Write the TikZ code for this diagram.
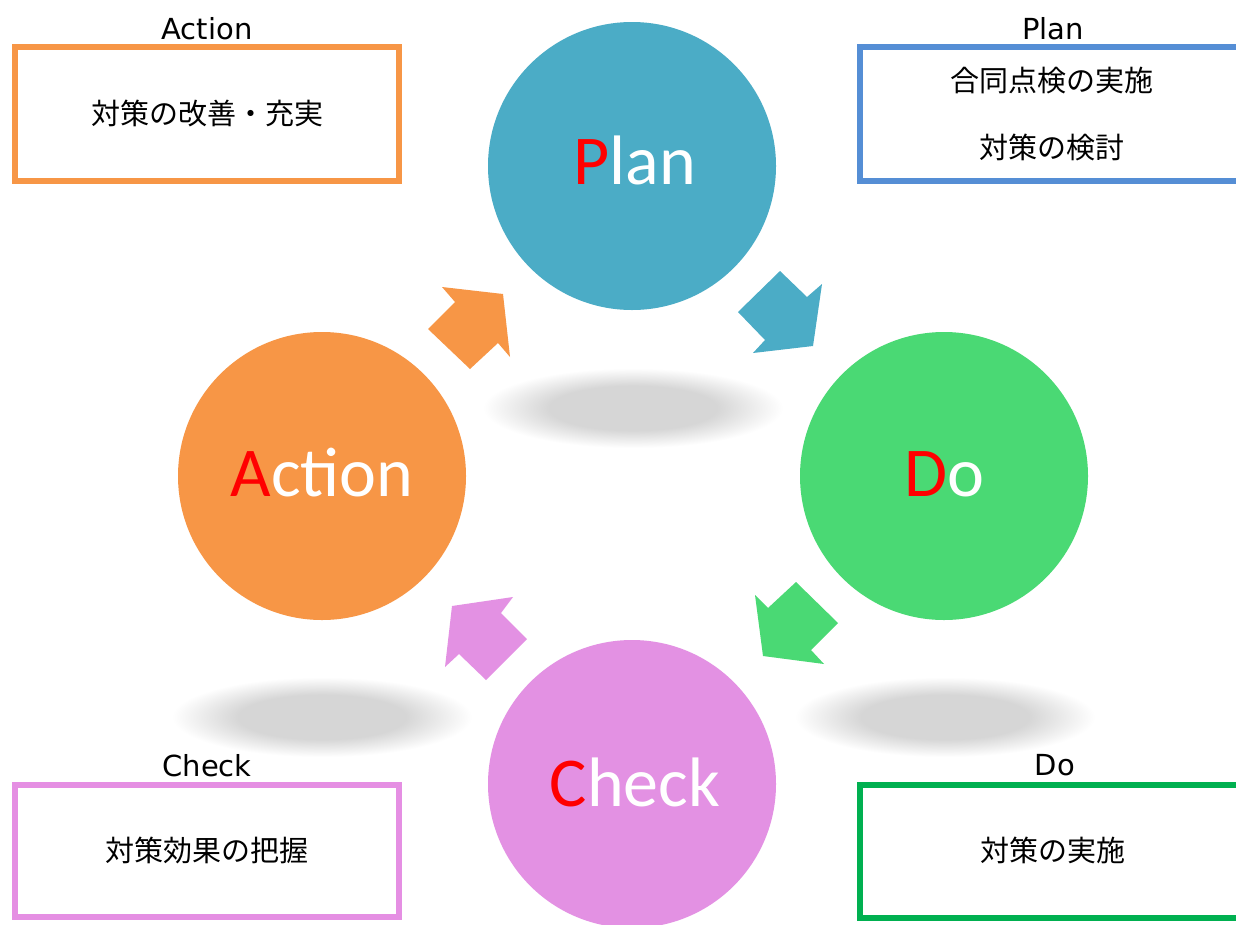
\documentclass[tikz,border=0pt]{standalone}
\usepackage{fontspec}
\setmainfont{Carlito}
\newfontfamily\jpfont{Noto Sans CJK JP}
\newfontfamily\lblfont{DejaVu Sans}
\definecolor{planc}{HTML}{4BACC6}
\definecolor{doc}{HTML}{4AD974}
\definecolor{checkc}{HTML}{E391E3}
\definecolor{actc}{HTML}{F79646}
\definecolor{planbox}{HTML}{558ED5}
\definecolor{dobox}{HTML}{00B050}
\definecolor{checkbox}{HTML}{E58FE3}
\definecolor{shadowgray}{HTML}{D6D6D6}
\pgfdeclareradialshading{softshadow}{\pgfpoint{0bp}{0bp}}{color(0bp)=(shadowgray); color(14bp)=(shadowgray); color(25bp)=(white); color(50bp)=(white)}
\begin{document}
\begin{tikzpicture}[x=1pt,y=-1pt,
  phase/.style={circle, fill=#1, minimum size=288pt, inner sep=0pt},
  bigtext/.style={anchor=base, text=white, inner sep=0pt, font=\fontsize{70}{70}\selectfont},
  infobox/.style={draw=#1, line width=6pt, fill=white, inner sep=0pt},
  boxlabel/.style={anchor=base, inner sep=0pt, font=\lblfont\fontsize{29}{29}\selectfont},
  boxtext/.style={inner sep=0pt, font=\jpfont\fontsize{29}{29}\selectfont},
  shadowblob/.style={shading=softshadow}]
\clip (0,0) rectangle (1236,924);
\fill[white] (0,0) rectangle (1236,924);

% shadows
\shade[shadowblob] (633,408) ellipse [x radius=150pt, y radius=40pt];
\shade[shadowblob] (322,717) ellipse [x radius=150pt, y radius=40pt];
\shade[shadowblob] (945,717) ellipse [x radius=150pt, y radius=40pt];

% circles
\node[phase=planc] (plan) at (632,166) {};
\node[phase=doc] (do) at (944,476) {};
\node[phase=actc] (action) at (322,476) {};
\node[phase=checkc] (check) at (632,784) {};

\node[bigtext] (plant) at (635,184) {\textcolor{red}{P}lan};
\node[bigtext] (dot) at (944,496) {\textcolor{red}{D}o};
\node[bigtext] (actiont) at (322,496) {\textcolor{red}{A}ction};
\node[bigtext] (checkt) at (635,806) {\textcolor{red}{C}heck};

% block arrows
\fill[actc] (428,329) -- (455,302) -- (442,287) -- (503,294) -- (510,357) -- (498,343) -- (470,369) -- cycle;
\fill[planc] (738,312) -- (780,271) -- (807,297) -- (822,284) -- (813,346) -- (753,353) -- (765,340) -- cycle;
\fill[doc] (838,623) -- (796,582) -- (768,608) -- (755,595) -- (763,656) -- (824,664) -- (811,650) -- cycle;
\fill[checkc] (486,680) -- (459,654) -- (445,667) -- (452,606) -- (513,597) -- (501,613) -- (527,639) -- cycle;

% info boxes
\node[infobox=actc, minimum width=384pt, minimum height=134pt] (actionbox) at (207,114) {};
\node[infobox=planbox, minimum width=390pt, minimum height=134pt] (planbox) at (1055,114) {};
\node[infobox=checkbox, minimum width=384pt, minimum height=132pt] (checkbox) at (207,851) {};
\node[infobox=dobox, minimum width=390pt, minimum height=133pt] (dobox) at (1055,851) {};

\node[boxlabel] (actionlbl) at (207,39) {Action};
\node[boxlabel] (planlbl) at (1053,39) {Plan};
\node[boxlabel] (checklbl) at (207,776) {Check};
\node[boxlabel] (dolbl) at (1055,775) {Do};

\node[boxtext] (actiontxt) at (207,113) {対策の改善・充実};
\node[boxtext] (plantxt1) at (1052,81) {合同点検の実施};
\node[boxtext] (plantxt2) at (1052,147) {対策の検討};
\node[boxtext] (checktxt) at (207,850) {対策効果の把握};
\node[boxtext] (dotxt) at (1053,850) {対策の実施};
\end{tikzpicture}
\end{document}
